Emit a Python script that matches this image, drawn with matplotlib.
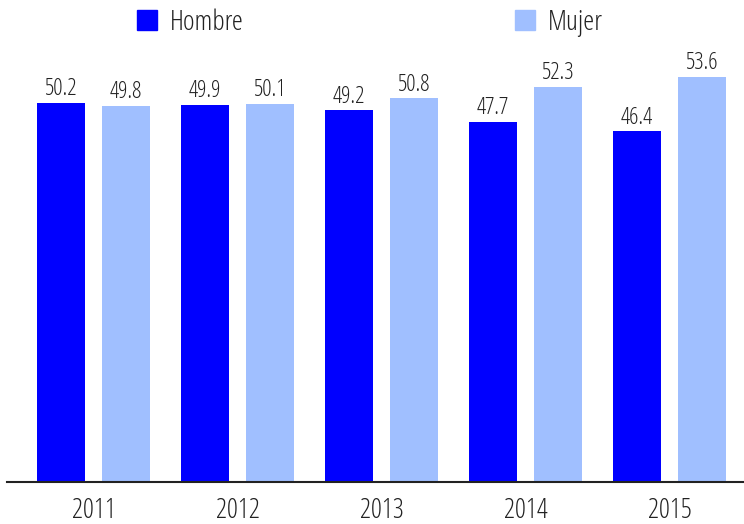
import matplotlib.pyplot as plt
import matplotlib.font_manager as fm
from matplotlib.textpath import TextPath
import numpy as np
from matplotlib.patches import Patch

years = ['2011', '2012', '2013', '2014', '2015']
hombre = [50.2, 49.9, 49.2, 47.7, 46.4]
mujer = [49.8, 50.1, 50.8, 52.3, 53.6]

c_hombre = '#0000ff'
c_mujer = '#a0bfff'
txt = '#222222'

SANS = ('DejaVu Sans', 'Liberation Sans', 'Noto Sans', 'Roboto',
        'Open Sans', 'Lato', 'Inter')


def weight_num(wt):
    table = {'light': 300, 'normal': 400, 'regular': 400, 'book': 400}
    try:
        return int(wt)
    except (TypeError, ValueError):
        return table.get(str(wt).lower(), 999)


# choose the narrowest plain sans face: "Hombre" about 3.4x as wide
# as a capital H is tall
def pick_font():
    best = None
    seen = set()
    for f in fm.fontManager.ttflist:
        if f.fname in seen or f.style != 'normal':
            continue
        if not f.name.startswith(SANS) or 'Mono' in f.name or 'CJK' in f.name:
            continue
        if 'Display' in f.name or 'Symbols' in f.name:
            continue
        seen.add(f.fname)
        if not 300 <= weight_num(f.weight) <= 400:
            continue
        try:
            p = fm.FontProperties(fname=f.fname)
            wd = TextPath((0, 0), 'Hombre', size=100, prop=p).get_extents().width
            ht = TextPath((0, 0), 'H', size=100, prop=p).get_extents().height
        except Exception:
            continue
        if ht <= 0:
            continue
        score = abs(wd / ht - 3.4) + (0.15 if weight_num(f.weight) == 400 else 0)
        if best is None or score < best[0]:
            best = (score, f.fname)
    return fm.FontProperties(fname=best[1]) if best else fm.FontProperties(family='DejaVu Sans')


fp = pick_font()
digit_frac = TextPath((0, 0), '0', size=100, prop=fp).get_extents().height / 100
cap_frac = TextPath((0, 0), 'H', size=100, prop=fp).get_extents().height / 100


def pt_for(px_height, frac):
    # font size in points at 100 dpi for a glyph height in pixels
    return px_height / frac * 72 / 100


s_val = pt_for(17, digit_frac)
s_tick = pt_for(20, digit_frac)
s_leg = pt_for(20, cap_frac)

fig = plt.figure(figsize=(7.44, 5.24), dpi=100)
ax = fig.add_axes([7 / 744, 42 / 524, 737 / 744, 482 / 524])

x = np.arange(len(years))
w = 0.333
off = 0.2257
b1 = ax.bar(x - off, hombre, w, color=c_hombre)
b2 = ax.bar(x + off, mujer, w, color=c_mujer)

# value labels on top of each bar
for bars, vals in ((b1, hombre), (b2, mujer)):
    for rect, v in zip(bars, vals):
        ax.annotate(f'{v:.1f}', (rect.get_x() + rect.get_width() / 2, v),
                    xytext=(0, 5.5), textcoords='offset points',
                    ha='center', va='baseline', fontproperties=fp,
                    fontsize=s_val, color=txt)

ax.set_xlim(-0.601, 4.517)
ax.set_ylim(0, 63.8)
ax.set_xticks(x)
ax.set_xticklabels(years, fontproperties=fp, fontsize=s_tick, color=txt)
ax.tick_params(axis='x', length=0, pad=11)
ax.set_yticks([])
for s in ['top', 'right', 'left']:
    ax.spines[s].set_visible(False)
ax.spines['bottom'].set_color('#222222')
ax.spines['bottom'].set_linewidth(1.5)

# two separate legend entries across the top
prop = fp.copy()
prop.set_size(s_leg)
kw = dict(frameon=False, prop=prop, handlelength=0.76 * 19 / s_leg,
          handleheight=0.76 * 19 / s_leg, handletextpad=0.5 * 19 / s_leg,
          borderpad=0, borderaxespad=0, loc='center left',
          bbox_transform=fig.transFigure, labelcolor=txt)
leg1 = ax.legend(handles=[Patch(color=c_hombre, label='Hombre')],
                 bbox_to_anchor=(137 / 744, 1 - 23 / 524), **kw)
ax.add_artist(leg1)
ax.legend(handles=[Patch(color=c_mujer, label='Mujer')],
          bbox_to_anchor=(515 / 744, 1 - 23 / 524), **kw)

fig.savefig('out.png', dpi=100)
